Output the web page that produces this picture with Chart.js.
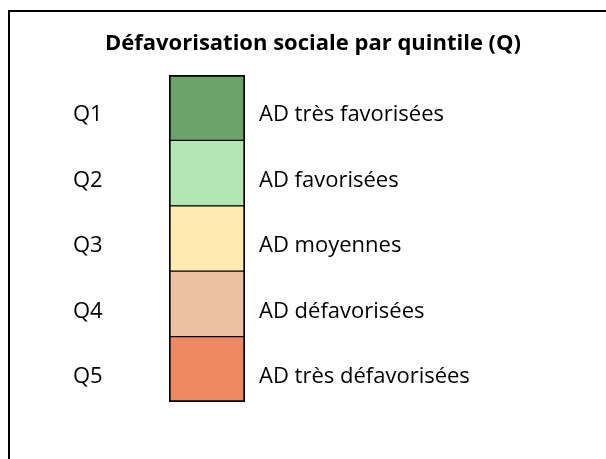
<!DOCTYPE html>
<html>
<head>
<meta charset="utf-8">
<style>
  html, body { margin: 0; padding: 0; background: #fff; }
  #wrap { width: 606px; height: 459px; }
</style>
<script src="https://cdn.jsdelivr.net/npm/chart.js@4.4.1/dist/chart.umd.min.js"></script>
</head>
<body>
<div id="wrap"><canvas id="legendChart" width="606" height="459"></canvas></div>
<script>
// quintiles and their labels
const quintiles = ['Q1', 'Q2', 'Q3', 'Q4', 'Q5'];
const descriptions = ['AD très favorisées', 'AD favorisées', 'AD moyennes', 'AD défavorisées', 'AD très défavorisées'];
const values = [1, 1, 1, 1, 1]; // every class gets one equal cell
const colors = ['#6DA36A', '#B3E6B3', '#FFEBB0', '#EDBFA3', '#EC8960'];
const titleText = 'Défavorisation sociale par quintile (Q)';

const fontFamily = '"Open Sans", "Noto Sans", sans-serif';

// frame around the legend (top and left edges only, the rest is cut off)
const framePlugin = {
    id: 'frame',
    beforeDraw(chart) {
        const ctx = chart.ctx;
        ctx.save();
        ctx.fillStyle = '#fff';
        ctx.fillRect(0, 0, chart.width, chart.height);
        ctx.strokeStyle = '#000';
        ctx.lineWidth = 2;
        ctx.beginPath();
        ctx.moveTo(9, chart.height);
        ctx.lineTo(9, 11);
        ctx.lineTo(chart.width, 11);
        ctx.stroke();
        ctx.restore();
    }
};

// labels sit a bit below the middle of each cell, push them down with an empty first line
const tickFont = { family: fontFamily, size: 22, lineHeight: '15px' };
const lowered = function (value, index) {
    return ['', this.getLabelForValue(value)];
};

const config = {
    type: 'bar',
    data: {
        labels: quintiles,
        datasets: [{
            data: values,
            backgroundColor: colors,
            borderColor: '#000',
            borderSkipped: false,
            borderWidth: function (context) {
                const i = context.dataIndex;
                return {
                    left: 2,
                    right: 2,
                    top: i === 0 ? 2 : 1,
                    bottom: i === values.length - 1 ? 2 : 1
                };
            },
            barPercentage: 1,
            categoryPercentage: 1,
            yAxisID: 'y'
        }]
    },
    options: {
        indexAxis: 'y',
        responsive: false,
        animation: false,
        layout: {
            padding: { left: 73, right: 53, top: 0, bottom: 57 }
        },
        plugins: {
            legend: { display: false },
            tooltip: { enabled: false },
            title: {
                display: true,
                text: titleText,
                color: '#000',
                font: { family: fontFamily, size: 22, weight: 'bold', lineHeight: 1.2 },
                padding: { top: 31, bottom: 17.6 }
            }
        },
        scales: {
            x: {
                display: false,
                min: 0,
                max: 1
            },
            y: {
                position: 'left',
                grid: { display: false, drawTicks: false },
                border: { display: false },
                ticks: {
                    crossAlign: 'far',
                    color: '#000',
                    font: tickFont,
                    callback: lowered
                },
                afterFit(scale) { scale.width = 96; }
            },
            y2: {
                type: 'category',
                labels: descriptions,
                position: 'right',
                offset: true,
                grid: { display: false, drawTicks: false },
                border: { display: false },
                ticks: {
                    padding: 14,
                    color: '#000',
                    font: tickFont,
                    callback: lowered
                },
                afterFit(scale) { scale.width = 308; }
            }
        }
    },
    plugins: [framePlugin]
};

const legendChart = new Chart(document.getElementById('legendChart'), config);
</script>
</body>
</html>
